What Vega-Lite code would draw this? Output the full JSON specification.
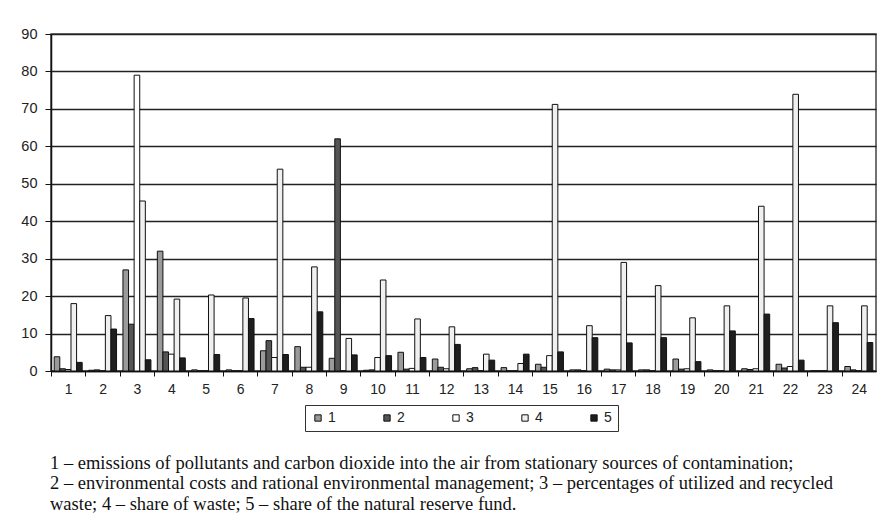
{
  "$schema": "https://vega.github.io/schema/vega-lite/v6.json",
  "width": 825,
  "height": 337,
  "autosize": {"type": "none"},
  "padding": {"left": 51, "top": 34, "right": 20, "bottom": 159},
  "background": "white",
  "title": {
    "text": [
      "1 – emissions of pollutants and carbon dioxide into the air from stationary sources of contamination;",
      "2 – environmental costs and rational environmental management; 3 – percentages of utilized and recycled",
      "waste; 4 – share of waste; 5 – share of the natural reserve fund."
    ],
    "orient": "bottom",
    "anchor": "start",
    "frame": "group",
    "offset": 22,
    "dx": -1,
    "font": "Liberation Serif",
    "fontSize": 18.5,
    "fontWeight": "normal",
    "color": "#111",
    "lineHeight": 20.5
  },
  "data": {
    "values": [
      {"g": 1, "s": "1", "v": 3.8}, {"g": 1, "s": "2", "v": 0.6}, {"g": 1, "s": "3", "v": 0.4}, {"g": 1, "s": "4", "v": 18}, {"g": 1, "s": "5", "v": 2.3},
      {"g": 2, "s": "1", "v": 0.2}, {"g": 2, "s": "2", "v": 0.3}, {"g": 2, "s": "3", "v": 0}, {"g": 2, "s": "4", "v": 14.8}, {"g": 2, "s": "5", "v": 11.2},
      {"g": 3, "s": "1", "v": 27}, {"g": 3, "s": "2", "v": 12.5}, {"g": 3, "s": "3", "v": 79}, {"g": 3, "s": "4", "v": 45.4}, {"g": 3, "s": "5", "v": 3},
      {"g": 4, "s": "1", "v": 32}, {"g": 4, "s": "2", "v": 5.1}, {"g": 4, "s": "3", "v": 4.5}, {"g": 4, "s": "4", "v": 19.2}, {"g": 4, "s": "5", "v": 3.5},
      {"g": 5, "s": "1", "v": 0.3}, {"g": 5, "s": "2", "v": 0}, {"g": 5, "s": "3", "v": 0}, {"g": 5, "s": "4", "v": 20.3}, {"g": 5, "s": "5", "v": 4.4},
      {"g": 6, "s": "1", "v": 0.3}, {"g": 6, "s": "2", "v": 0}, {"g": 6, "s": "3", "v": 0}, {"g": 6, "s": "4", "v": 19.5}, {"g": 6, "s": "5", "v": 14},
      {"g": 7, "s": "1", "v": 5.4}, {"g": 7, "s": "2", "v": 8.1}, {"g": 7, "s": "3", "v": 3.6}, {"g": 7, "s": "4", "v": 53.9}, {"g": 7, "s": "5", "v": 4.4},
      {"g": 8, "s": "1", "v": 6.5}, {"g": 8, "s": "2", "v": 1.0}, {"g": 8, "s": "3", "v": 1.0}, {"g": 8, "s": "4", "v": 27.8}, {"g": 8, "s": "5", "v": 15.8},
      {"g": 9, "s": "1", "v": 3.4}, {"g": 9, "s": "2", "v": 62}, {"g": 9, "s": "3", "v": 0}, {"g": 9, "s": "4", "v": 8.7}, {"g": 9, "s": "5", "v": 4.3},
      {"g": 10, "s": "1", "v": 0.2}, {"g": 10, "s": "2", "v": 0.3}, {"g": 10, "s": "3", "v": 3.6}, {"g": 10, "s": "4", "v": 24.3}, {"g": 10, "s": "5", "v": 4.1},
      {"g": 11, "s": "1", "v": 5.0}, {"g": 11, "s": "2", "v": 0.5}, {"g": 11, "s": "3", "v": 0.7}, {"g": 11, "s": "4", "v": 13.9}, {"g": 11, "s": "5", "v": 3.6},
      {"g": 12, "s": "1", "v": 3.2}, {"g": 12, "s": "2", "v": 1.0}, {"g": 12, "s": "3", "v": 0.6}, {"g": 12, "s": "4", "v": 11.8}, {"g": 12, "s": "5", "v": 7.1},
      {"g": 13, "s": "1", "v": 0.6}, {"g": 13, "s": "2", "v": 0.9}, {"g": 13, "s": "3", "v": 0}, {"g": 13, "s": "4", "v": 4.5}, {"g": 13, "s": "5", "v": 2.9},
      {"g": 14, "s": "1", "v": 0.9}, {"g": 14, "s": "2", "v": 0}, {"g": 14, "s": "3", "v": 0}, {"g": 14, "s": "4", "v": 2.0}, {"g": 14, "s": "5", "v": 4.5},
      {"g": 15, "s": "1", "v": 1.8}, {"g": 15, "s": "2", "v": 1.0}, {"g": 15, "s": "3", "v": 4.1}, {"g": 15, "s": "4", "v": 71.2}, {"g": 15, "s": "5", "v": 5.1},
      {"g": 16, "s": "1", "v": 0.3}, {"g": 16, "s": "2", "v": 0.3}, {"g": 16, "s": "3", "v": 0}, {"g": 16, "s": "4", "v": 12.1}, {"g": 16, "s": "5", "v": 8.9},
      {"g": 17, "s": "1", "v": 0.5}, {"g": 17, "s": "2", "v": 0.3}, {"g": 17, "s": "3", "v": 0.3}, {"g": 17, "s": "4", "v": 29}, {"g": 17, "s": "5", "v": 7.5},
      {"g": 18, "s": "1", "v": 0.3}, {"g": 18, "s": "2", "v": 0.3}, {"g": 18, "s": "3", "v": 0}, {"g": 18, "s": "4", "v": 22.8}, {"g": 18, "s": "5", "v": 8.9},
      {"g": 19, "s": "1", "v": 3.2}, {"g": 19, "s": "2", "v": 0.5}, {"g": 19, "s": "3", "v": 0.6}, {"g": 19, "s": "4", "v": 14.2}, {"g": 19, "s": "5", "v": 2.5},
      {"g": 20, "s": "1", "v": 0.3}, {"g": 20, "s": "2", "v": 0}, {"g": 20, "s": "3", "v": 0}, {"g": 20, "s": "4", "v": 17.4}, {"g": 20, "s": "5", "v": 10.7},
      {"g": 21, "s": "1", "v": 0.6}, {"g": 21, "s": "2", "v": 0.4}, {"g": 21, "s": "3", "v": 0.6}, {"g": 21, "s": "4", "v": 44}, {"g": 21, "s": "5", "v": 15.2},
      {"g": 22, "s": "1", "v": 1.8}, {"g": 22, "s": "2", "v": 0.8}, {"g": 22, "s": "3", "v": 1.2}, {"g": 22, "s": "4", "v": 73.9}, {"g": 22, "s": "5", "v": 2.9},
      {"g": 23, "s": "1", "v": 0}, {"g": 23, "s": "2", "v": 0}, {"g": 23, "s": "3", "v": 0}, {"g": 23, "s": "4", "v": 17.4}, {"g": 23, "s": "5", "v": 12.9},
      {"g": 24, "s": "1", "v": 1.2}, {"g": 24, "s": "2", "v": 0.3}, {"g": 24, "s": "3", "v": 0}, {"g": 24, "s": "4", "v": 17.4}, {"g": 24, "s": "5", "v": 7.6}
    ]
  },
  "mark": {"type": "bar", "stroke": "#111", "strokeWidth": 1},
  "encoding": {
    "x": {
      "field": "g",
      "type": "ordinal",
      "scale": {"paddingInner": 0, "paddingOuter": 0},
      "axis": {
        "title": null,
        "labelAngle": 0,
        "labelFont": "Liberation Sans",
        "labelFontSize": 14,
        "labelColor": "#222",
        "labelPadding": 6,
        "tickOffset": -17.19,
        "labelOffset": 17.19,
        "tickSize": 5,
        "tickColor": "#111",
        "domainColor": "#111",
        "domainWidth": 1.5,
        "grid": false
      }
    },
    "xOffset": {
      "field": "s",
      "type": "nominal",
      "scale": {"paddingOuter": 0.57, "paddingInner": 0}
    },
    "y": {
      "field": "v",
      "type": "quantitative",
      "scale": {"domain": [0, 90], "nice": false},
      "axis": {
        "title": null,
        "values": [0, 10, 20, 30, 40, 50, 60, 70, 80, 90],
        "labelFont": "Liberation Sans",
        "labelFontSize": 14.5,
        "labelColor": "#222",
        "labelPadding": 8,
        "tickSize": 6,
        "tickColor": "#111",
        "domainColor": "#111",
        "domainWidth": 1.5,
        "grid": true,
        "gridColor": "#222",
        "gridWidth": 1.3
      }
    },
    "color": {
      "field": "s",
      "type": "nominal",
      "scale": {
        "domain": ["1", "2", "3", "4", "5"],
        "range": ["#9a9a9a", "#555555", "#ffffff", "#f0f0f0", "#1e1e1e"]
      },
      "legend": {
        "title": null,
        "orient": "none",
        "legendX": 254,
        "legendY": 371,
        "direction": "horizontal",
        "symbolType": "square",
        "symbolSize": 40,
        "symbolStrokeColor": "#111",
        "symbolStrokeWidth": 1,
        "labelFont": "Liberation Sans",
        "labelFontSize": 14,
        "labelColor": "#222",
        "labelOffset": 3,
        "columnPadding": 44,
        "padding": 6,
        "strokeColor": "#333"
      }
    }
  },
  "config": {
    "view": {"stroke": "#444", "strokeWidth": 1.5}
  }
}
